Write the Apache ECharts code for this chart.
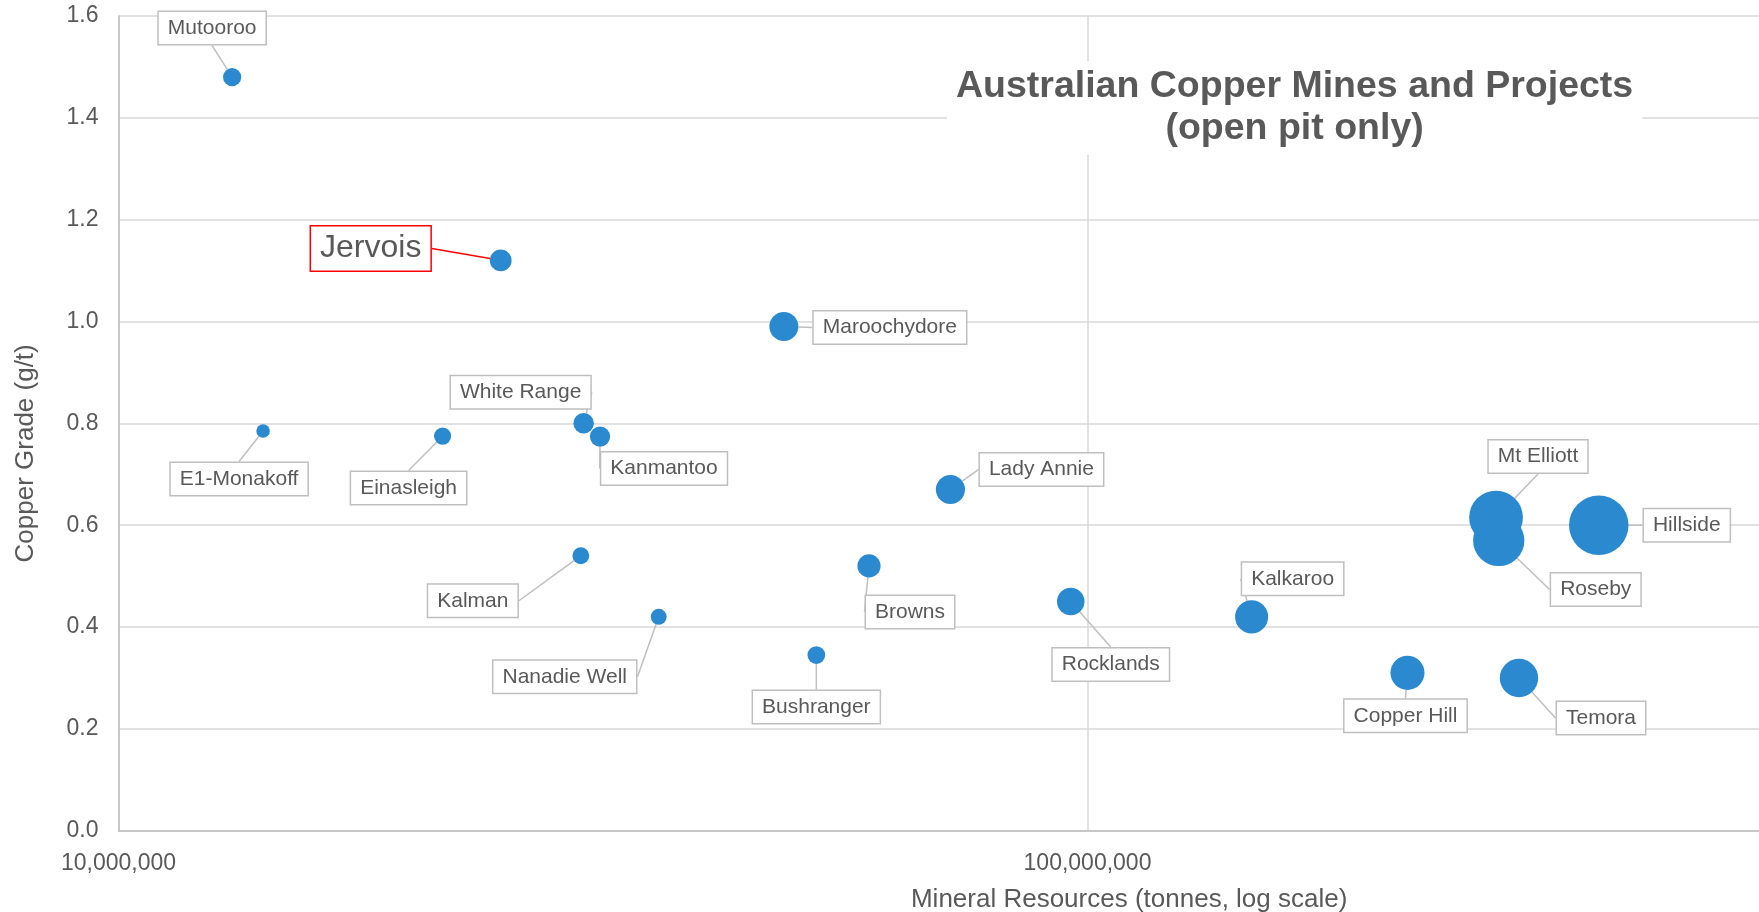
<!DOCTYPE html>
<html>
<head>
<meta charset="utf-8">
<title>Australian Copper Mines and Projects</title>
<script src="https://cdn.jsdelivr.net/npm/echarts@6.0.0/dist/echarts.min.js"></script>
<style>
  html, body { margin: 0; padding: 0; background: #fff; }
  #chart { width: 1759px; height: 912px; }
</style>
</head>
<body>
<div id="chart"></div>
<script>
// mines / projects, open pit only
const mines = ['Mutooroo', 'Jervois', 'E1-Monakoff', 'Einasleigh', 'White Range', 'Kanmantoo',
  'Kalman', 'Nanadie Well', 'Maroochydore', 'Lady Annie', 'Browns', 'Bushranger', 'Rocklands',
  'Kalkaroo', 'Mt Elliott', 'Roseby', 'Hillside', 'Copper Hill', 'Temora']
// mineral resources, tonnes
const resources = [13100000, 24800000, 14100000, 21600000, 30200000, 31400000,
  30000000, 36100000, 48600000, 72200000, 59500000, 52500000, 96100000,
  147700000, 264000000, 265700000, 337000000, 213900000, 278800000]
// copper grade
const grade = [1.48, 1.12, 0.785, 0.775, 0.80, 0.774,
  0.54, 0.42, 0.99, 0.67, 0.52, 0.345, 0.45,
  0.42, 0.615, 0.57, 0.60, 0.31, 0.30]
// contained copper (kt), drives bubble area
const containedCu = [190, 270, 105, 167, 240, 235,
  162, 145, 480, 484, 305, 180, 432,
  625, 1650, 1500, 2020, 663, 840]
const yTicks = [0, 0.2, 0.4, 0.6, 0.8, 1.0, 1.2, 1.4, 1.6]

const HIGHLIGHT = 'Jervois'
const TEXT = '#595959'
const FONT = '"Liberation Sans", Arial, sans-serif'

// where each callout box sits relative to its bubble (px)
const labelOffsets = {
  'Mutooroo': [-20, -49],
  'Jervois': [-130, -12],
  'E1-Monakoff': [-24, 48],
  'Einasleigh': [-34, 52],
  'White Range': [-63, -31],
  'Kanmantoo': [64, 32],
  'Kalman': [-108, 45],
  'Nanadie Well': [-94, 60],
  'Maroochydore': [106, 1],
  'Lady Annie': [91, -20],
  'Browns': [41, 46],
  'Bushranger': [0, 52],
  'Rocklands': [40, 63],
  'Kalkaroo': [41, -38],
  'Mt Elliott': [42, -61],
  'Roseby': [97, 49],
  'Hillside': [88, 0],
  'Copper Hill': [-2, 43],
  'Temora': [82, 40]
}

let seriesData = mines.map((name, i) => {
  let item = { name: name, value: [resources[i], grade[i], containedCu[i]] }
  if (name === HIGHLIGHT) {
    item.label = { fontSize: 32, lineHeight: 36, borderColor: '#ff0000', padding: [4, 9] }
    item.labelLine = { lineStyle: { color: '#ff0000' } }
  }
  return item
})

let chart = echarts.init(document.getElementById('chart'))
let option = {
  backgroundColor: '#fff',
  animation: false,
  textStyle: { fontFamily: FONT },
  title: {
    text: 'Australian Copper Mines and Projects\n(open pit only)',
    left: 1285.6,
    top: 61,
    textAlign: 'center',
    padding: [5, 9],
    backgroundColor: '#fff',
    textStyle: {
      fontFamily: FONT,
      fontSize: 37.5,
      fontWeight: 'bold',
      lineHeight: 42,
      color: TEXT
    }
  },
  grid: {
    left: 118.5, right: -5.8, top: 16, bottom: 81.3,
    containLabel: false,
    outerBoundsMode: 'none'
  },
  xAxis: {
    type: 'log',
    logBase: 10,
    min: 10000000,
    max: 500000000,
    name: 'Mineral Resources (tonnes, log scale)',
    nameLocation: 'middle',
    nameGap: 56,
    nameTextStyle: { fontFamily: FONT, fontSize: 26, color: TEXT, padding: [0, 0, 0, 375] },
    axisLine: { show: true, lineStyle: { color: '#bfbfbf', width: 1.5 } },
    axisTick: { show: false },
    axisLabel: {
      fontFamily: FONT, fontSize: 23, color: TEXT, margin: 21,
      showMaxLabel: false,
      formatter: v => Math.round(v).toLocaleString('en-US')
    },
    splitLine: { show: true, lineStyle: { color: '#d9d9d9', width: 1.5 } }
  },
  yAxis: {
    type: 'value',
    min: yTicks[0],
    max: yTicks[yTicks.length - 1],
    interval: yTicks[1] - yTicks[0],
    name: 'Copper Grade (g/t)',
    nameLocation: 'middle',
    nameGap: 80,
    nameTextStyle: { fontFamily: FONT, fontSize: 26, color: TEXT, padding: [0, 60, 0, 0] },
    axisLine: { show: true, lineStyle: { color: '#bfbfbf', width: 1.5 } },
    axisTick: { show: false },
    axisLabel: {
      fontFamily: FONT, fontSize: 23, color: TEXT, margin: 20,
      formatter: v => v.toFixed(1)
    },
    splitLine: { show: true, lineStyle: { color: '#d9d9d9', width: 1.5 } }
  },
  series: [
    {
      type: 'scatter',
      data: seriesData,
      symbol: 'circle',
      symbolSize: val => Math.sqrt(val[2]) * 1.324,
      itemStyle: { color: '#2a89cf', opacity: 1 },
      label: {
        show: true,
        position: 'inside',
        formatter: '{b}',
        fontFamily: FONT,
        fontSize: 21,
        lineHeight: 24,
        color: TEXT,
        backgroundColor: '#fff',
        borderColor: '#bfbfbf',
        borderWidth: 1.5,
        padding: [4, 9]
      },
      labelLine: {
        show: true,
        lineStyle: { color: '#bfbfbf', width: 1.5 }
      },
      labelLayout: function (params) {
        let off = labelOffsets[mines[params.dataIndex]] || [0, 0]
        return { dx: off[0], dy: off[1] }
      },
      emphasis: { disabled: true }
    }
  ]
}
chart.setOption(option)
window.onresize = function () {
  chart.resize()
}
</script>
</body>
</html>
